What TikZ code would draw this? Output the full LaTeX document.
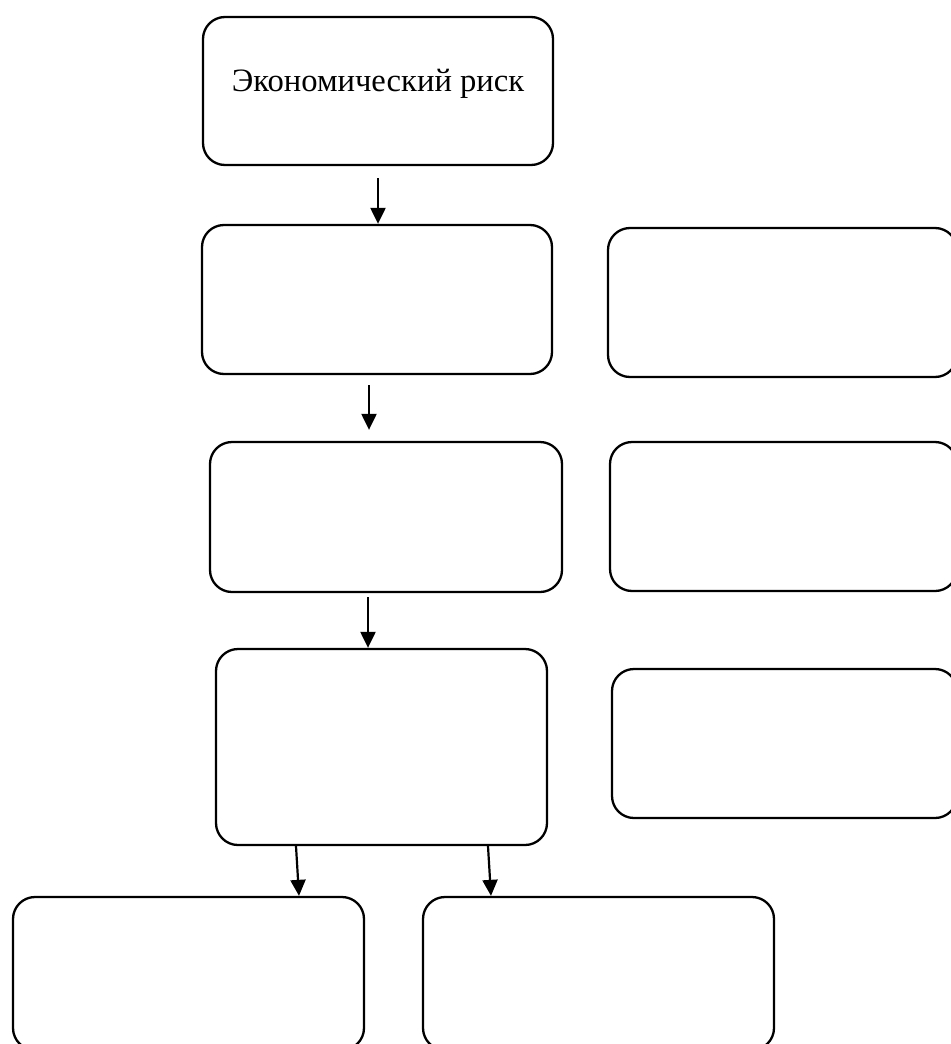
\documentclass[tikz,border=0pt]{standalone}
\usepackage{fontspec}
\setmainfont{Liberation Serif}
\usetikzlibrary{arrows.meta}

\begin{document}
\begin{tikzpicture}[x=0.5pt, y=-0.5pt]
\tikzstyle{block} = [rectangle, draw, line width=1.15pt, rounded corners=11pt, inner sep=0pt]
\tikzstyle{line} = [draw, line width=1.1pt, -{Triangle[length=8pt, width=7.5pt]}]

\path[use as bounding box, clip] (0,0) rectangle (951,1044);

\node [block, minimum width=175pt, minimum height=74pt, label={[yshift=3.8pt, font=\fontsize{16.3}{19}\selectfont]center:Экономический риск}] (risk) at (378,91) {};

\node [block, minimum width=175pt, minimum height=74.5pt] (left2) at (377,299.5) {};
\node [block, minimum width=174.5pt, minimum height=74.5pt] (right2) at (782.5,302.5) {};
\node [block, minimum width=176pt, minimum height=75pt] (left3) at (386,517) {};
\node [block, minimum width=173.5pt, minimum height=74.5pt] (right3) at (783.5,516.5) {};
\node [block, minimum width=165.5pt, minimum height=98pt] (left4) at (381.5,747) {};
\node [block, minimum width=172.5pt, minimum height=74.5pt] (right4) at (784.5,743.5) {};
\node [block, minimum width=175.5pt, minimum height=76.5pt] (bottom1) at (188.5,973.5) {};
\node [block, minimum width=175.5pt, minimum height=76.5pt] (bottom2) at (598.5,973.5) {};

\draw [line, shorten <=6pt] (risk.south) -- (risk.south |- left2.north);
\draw [line, shorten <=5pt, shorten >=5.5pt] ([xshift=-4pt]left2.south) -- ([xshift=-4pt]left2.south |- left3.north);
\draw [line, shorten <=2pt] ([xshift=-9pt]left3.south) -- ([xshift=-9pt]left3.south |- left4.north);
\draw [line] ([xshift=-42.75pt]left4.south) -- ([xshift=55.25pt]bottom1.north);
\draw [line] ([xshift=53.25pt]left4.south) -- ([xshift=-53.75pt]bottom2.north);

\end{tikzpicture}
\end{document}
